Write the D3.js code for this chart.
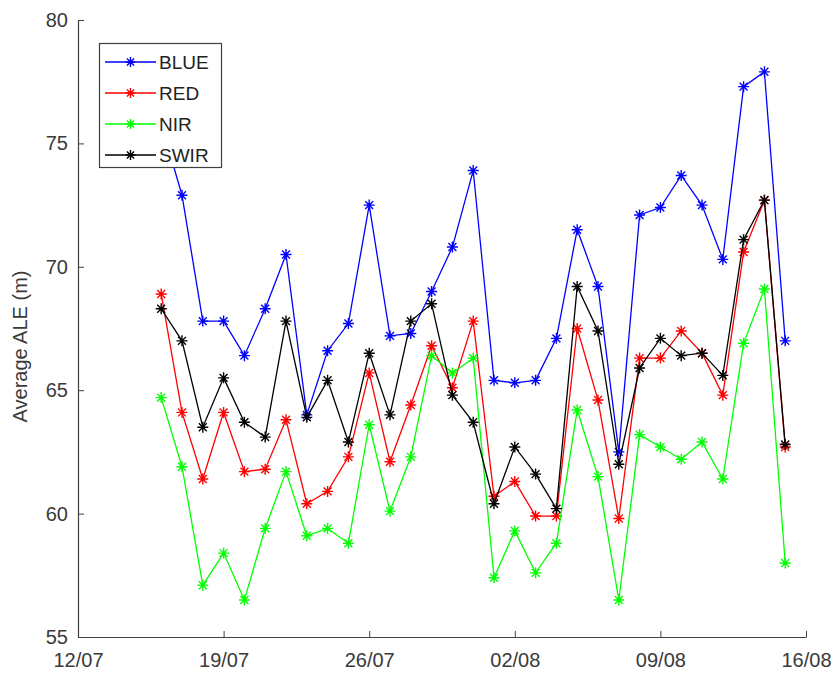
<!DOCTYPE html>
<html>
<head>
<meta charset="utf-8">
<script src="https://cdn.jsdelivr.net/npm/d3@7"></script>
<style>
  html, body { margin: 0; padding: 0; background: #fff; }
  svg { display: block; }
  text { font-family: "Liberation Sans", Arial, sans-serif; }
</style>
</head>
<body>
<svg id="chart" width="835" height="679"></svg>
<script>
// ---- data ----
const dates = ["16/07","17/07","18/07","19/07","20/07","21/07","22/07","23/07","24/07","25/07",
               "26/07","27/07","28/07","29/07","30/07","31/07","01/08","02/08","03/08","04/08",
               "05/08","06/08","07/08","08/08","09/08","10/08","11/08","12/08","13/08","14/08","15/08"];
const blue = [75.8,72.9,67.8,67.8,66.4,68.3,70.5,64.0,66.6,67.7,72.5,67.2,67.3,69.0,70.8,73.9,
              65.4,65.3,65.4,67.1,71.5,69.2,62.5,72.1,72.4,73.7,72.5,70.3,77.3,77.9,67.0];
const red  = [68.9,64.1,61.4,64.1,61.7,61.8,63.8,60.4,60.9,62.3,65.7,62.1,64.4,66.8,65.1,67.8,
              60.7,61.3,59.9,59.9,67.5,64.6,59.8,66.3,66.3,67.4,66.5,64.8,70.6,72.7,62.7];
const nir  = [64.7,61.9,57.1,58.4,56.5,59.4,61.7,59.1,59.4,58.8,63.6,60.1,62.3,66.4,65.7,66.3,
              57.4,59.3,57.6,58.8,64.2,61.5,56.5,63.2,62.7,62.2,62.9,61.4,66.9,69.1,58.0];
const swir = [68.3,67.0,63.5,65.5,63.7,63.1,67.8,63.9,65.4,62.9,66.5,64.0,67.8,68.5,64.8,63.7,
              60.4,62.7,61.6,60.2,69.2,67.4,62.0,65.9,67.1,66.4,66.5,65.6,71.1,72.7,62.8];
const seriesNames = ["BLUE","RED","NIR","SWIR"];
const seriesColors = ["#0000ff","#ff0000","#00ff00","#000000"];
const xTickLabels = ["12/07","19/07","26/07","02/08","09/08","16/08"];
const yTicks = [55,60,65,70,75,80];
const yLabel = "Average ALE (m)";

// ---- helpers ----
const year = 2017;
const parseD = s => { const [d,m] = s.split("/").map(Number); return new Date(year, m-1, d); };

const svg = d3.select("#chart");
const L = 78, R = 806, T = 20, B = 637;

const x = d3.scaleTime().domain([parseD(xTickLabels[0]), parseD(xTickLabels[xTickLabels.length-1])]).range([L, R]);
const y = d3.scaleLinear().domain([55, 80]).range([B, T]);

const axisColor = "#404040";

// x axis
const xAxis = d3.axisBottom(x)
  .tickValues(xTickLabels.map(parseD))
  .tickFormat((d,i) => xTickLabels[i])
  .tickSizeInner(-6).tickSizeOuter(0).tickPadding(16);
const gx = svg.append("g").attr("transform", `translate(0,${B})`).call(xAxis);
gx.select(".domain").attr("stroke", axisColor).attr("stroke-width", 1.2);
gx.selectAll(".tick line").attr("stroke", axisColor);
gx.selectAll(".tick text").attr("fill", "#3a3a3a").attr("font-size", 20);

// y axis
const yAxis = d3.axisLeft(y).tickValues(yTicks).tickSizeInner(-6).tickSizeOuter(0).tickPadding(10);
const gy = svg.append("g").attr("transform", `translate(${L},0)`).call(yAxis);
gy.select(".domain").attr("stroke", axisColor).attr("stroke-width", 1.2);
gy.selectAll(".tick line").attr("stroke", axisColor);
gy.selectAll(".tick text").attr("fill", "#3a3a3a").attr("font-size", 20);

// y label
svg.append("text")
  .attr("transform", `translate(27,${(T+B)/2 + 18}) rotate(-90)`)
  .attr("text-anchor", "middle")
  .attr("font-size", 20)
  .attr("fill", "#3a3a3a")
  .text(yLabel);

// marker
function asterisk(g, cx, cy, r, color) {
  const d = `M${cx-r},${cy}L${cx+r},${cy}M${cx},${cy-r}L${cx},${cy+r}` +
            `M${cx-r*0.72},${cy-r*0.72}L${cx+r*0.72},${cy+r*0.72}M${cx-r*0.72},${cy+r*0.72}L${cx+r*0.72},${cy-r*0.72}`;
  g.append("path").attr("d", d).attr("stroke", color).attr("stroke-width", 1.4).attr("fill", "none");
}

const allSeries = [blue, red, nir, swir];
const line = d3.line().x((d,i) => x(parseD(dates[i]))).y(d => y(d));

allSeries.forEach((vals, si) => {
  const g = svg.append("g");
  g.append("path").datum(vals).attr("d", line)
    .attr("fill", "none").attr("stroke", seriesColors[si]).attr("stroke-width", 1.3);
  vals.forEach((v, i) => asterisk(g, x(parseD(dates[i])), y(v), 5.5, seriesColors[si]));
});

// legend
const lg = svg.append("g");
lg.append("rect").attr("x", 99.5).attr("y", 43.5).attr("width", 122).attr("height", 124)
  .attr("fill", "#fff").attr("stroke", "#404040").attr("stroke-width", 1.2);
seriesNames.forEach((n, i) => {
  const yy = 62 + i * 31;
  lg.append("line").attr("x1", 105).attr("x2", 156).attr("y1", yy).attr("y2", yy)
    .attr("stroke", seriesColors[i]).attr("stroke-width", 1.3);
  asterisk(lg, 130.5, yy, 5, seriesColors[i]);
  lg.append("text").attr("x", 159).attr("y", yy + 7).attr("font-size", 19)
    .attr("fill", "#222").text(n);
});
</script>
</body>
</html>
